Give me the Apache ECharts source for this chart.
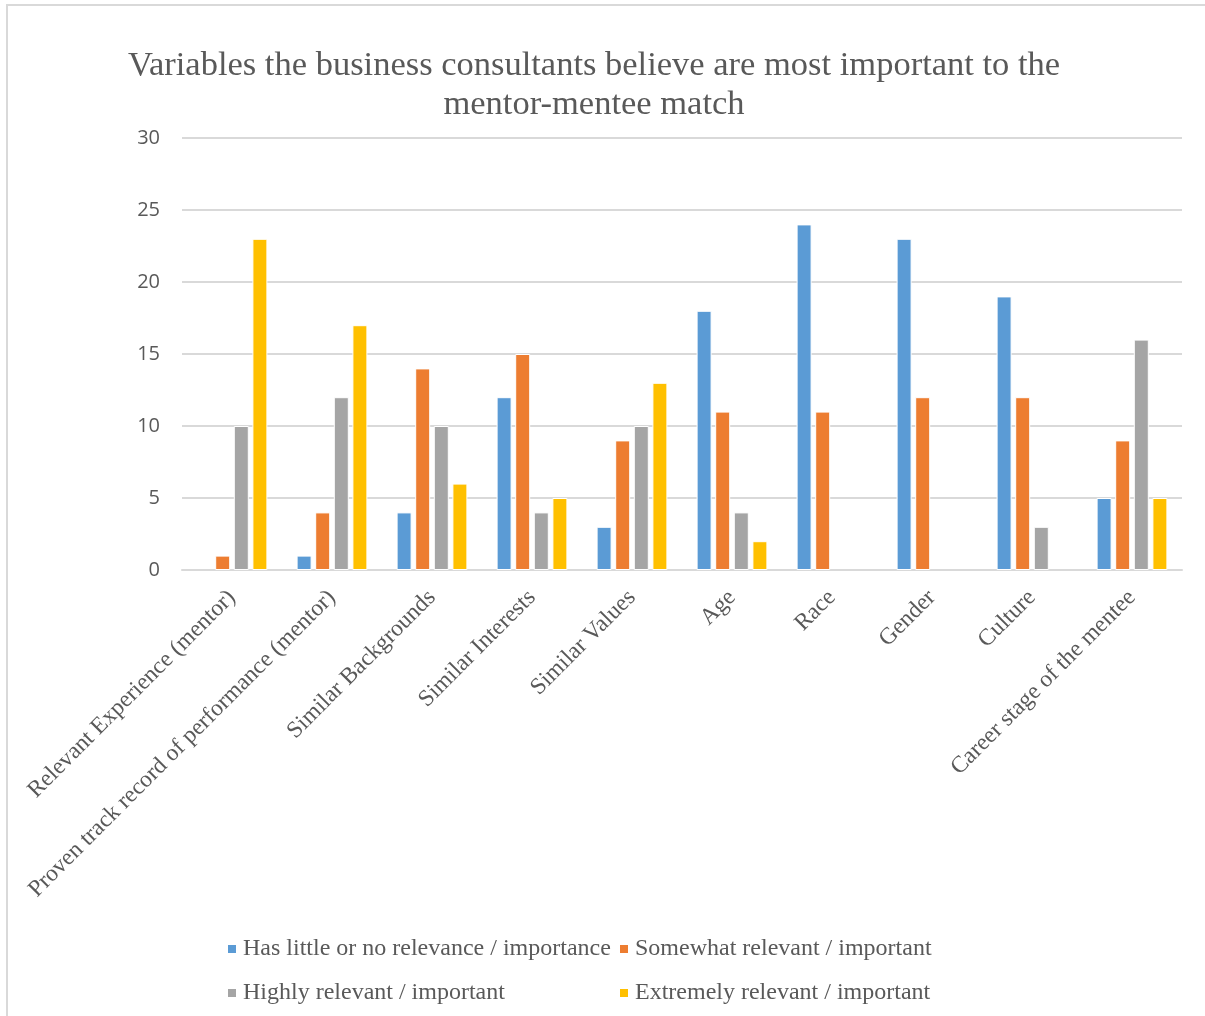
<!DOCTYPE html>
<html>
<head>
<meta charset="utf-8">
<script src="https://cdn.jsdelivr.net/npm/echarts@6/dist/echarts.min.js"></script>
<style>
  html, body { margin: 0; padding: 0; background: #fff; }
  #main { width: 1205px; height: 1016px; }
</style>
</head>
<body>
<div id="main"></div>
<script>
// categories along the x axis
var categories = [
  'Relevant Experience (mentor)',
  'Proven track record of performance (mentor)',
  'Similar Backgrounds',
  'Similar Interests',
  'Similar Values',
  'Age',
  'Race',
  'Gender',
  'Culture',
  'Career stage of the mentee'
];

var seriesNames = [
  'Has little or no relevance / importance',
  'Somewhat relevant / important',
  'Highly relevant / important',
  'Extremely relevant / important'
];

var littleValues    = [0, 1, 4, 12, 3, 18, 24, 23, 19, 5];
var somewhatValues  = [1, 4, 14, 15, 9, 11, 11, 12, 12, 9];
var highlyValues    = [10, 12, 10, 4, 10, 4, 0, 0, 3, 16];
var extremelyValues = [23, 17, 6, 5, 13, 2, 0, 0, 0, 5];

var colors = ['#5b9bd5', '#ed7d31', '#a5a5a5', '#ffc000'];
var textColor = '#595959';
var serif = '"Liberation Serif", "Times New Roman", serif';

var chart = echarts.init(document.getElementById('main'));

// zero bars are not drawn at all in the original
function bar(name, data, color) {
  return {
    name: name,
    type: 'bar',
    data: data.map(function (v) { return v === 0 ? '-' : v; }),
    barWidth: 15,
    barGap: '24%',
    itemStyle: { color: color, borderColor: '#fff', borderWidth: 1 }
  };
}

var legendText = { fontFamily: serif, fontSize: 24, lineHeight: 24, color: textColor, padding: [0, 0, 0, 1] };

var option = {
  animation: false,
  color: colors,
  title: {
    text: 'Variables the business consultants believe are most important to the\nmentor-mentee match',
    left: 589,
    textAlign: 'center',
    top: 41,
    textStyle: {
      fontFamily: serif,
      fontWeight: 'normal',
      fontSize: 34.5,
      lineHeight: 39,
      color: textColor
    }
  },
  graphic: [{
    type: 'rect',
    shape: { x: 7, y: 5, width: 1210, height: 1020 },
    style: { fill: 'none', stroke: '#d9d9d9', lineWidth: 2 },
    silent: true
  }],
  legend: [{
    orient: 'vertical',
    left: 226,
    top: 937,
    padding: 0,
    itemWidth: 10,
    itemHeight: 10,
    itemGap: 20,
    icon: 'rect',
    data: [seriesNames[0], seriesNames[2]],
    textStyle: legendText
  }, {
    orient: 'vertical',
    left: 618,
    top: 937,
    padding: 0,
    itemWidth: 10,
    itemHeight: 10,
    itemGap: 20,
    icon: 'rect',
    data: [seriesNames[1], seriesNames[3]],
    textStyle: legendText
  }],
  grid: {
    left: 182,
    right: 23,
    top: 138,
    bottom: 446,
    containLabel: false
  },
  xAxis: {
    type: 'category',
    data: categories,
    axisLine: { lineStyle: { color: '#d9d9d9', width: 2 } },
    axisTick: { show: false },
    axisLabel: {
      rotate: 45,
      margin: 24,
      interval: 0,
      fontFamily: serif,
      fontSize: 23.5,
      color: textColor
    }
  },
  yAxis: {
    type: 'value',
    min: 0,
    max: 30,
    interval: 5,
    axisLine: { show: false },
    axisTick: { show: false },
    splitLine: { lineStyle: { color: '#d9d9d9', width: 2 } },
    axisLabel: {
      margin: 22,
      fontFamily: '"Open Sans", "Liberation Sans", sans-serif',
      fontSize: 20,
      color: textColor
    }
  },
  series: [
    bar(seriesNames[0], littleValues, colors[0]),
    bar(seriesNames[1], somewhatValues, colors[1]),
    bar(seriesNames[2], highlyValues, colors[2]),
    bar(seriesNames[3], extremelyValues, colors[3])
  ]
};

option && chart.setOption(option);
</script>
</body>
</html>
